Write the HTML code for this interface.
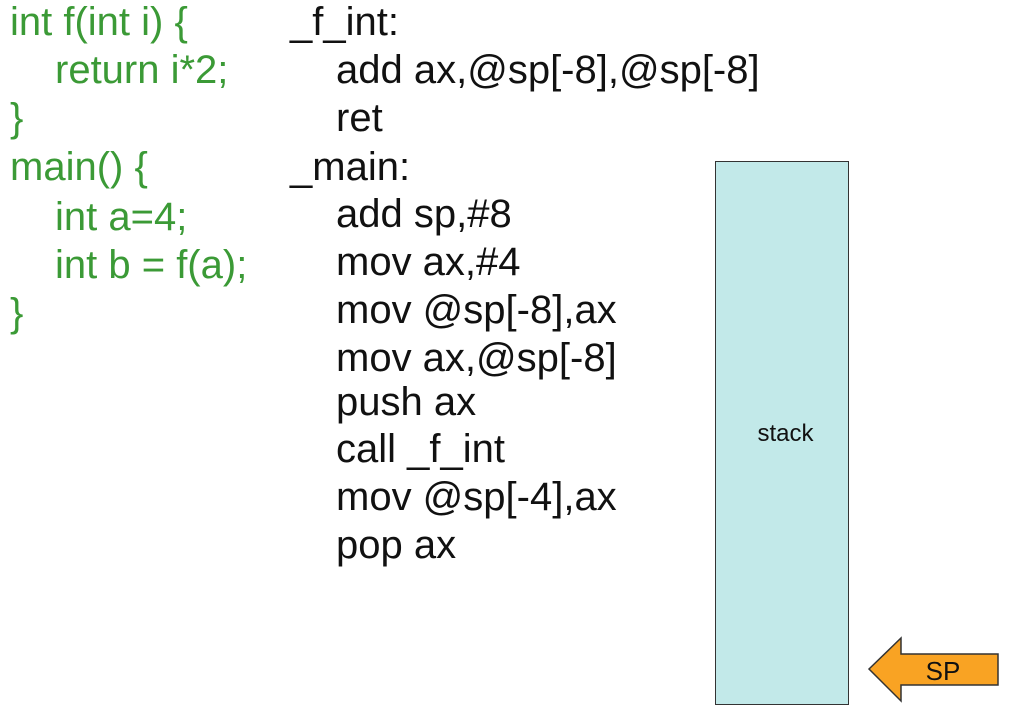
<!DOCTYPE html>
<html><head><style>
html,body{margin:0;padding:0;width:1027px;height:714px;background:#fff;overflow:hidden;position:relative;font-family:"Liberation Sans",Arial,sans-serif;}
.l{position:absolute;font-size:40px;line-height:48px;white-space:nowrap;}
.g{color:#3b9a36;}
.k{color:#111;}
</style></head><body>
<div class="l g" style="left:10px;top:-2px">int f(int i) {</div>
<div class="l g" style="left:55px;top:46px">return i*2;</div>
<div class="l g" style="left:10px;top:94px">}</div>
<div class="l g" style="left:10px;top:143px">main() {</div>
<div class="l g" style="left:55px;top:193px">int a=4;</div>
<div class="l g" style="left:55px;top:241px">int b = f(a);</div>
<div class="l g" style="left:10px;top:289px">}</div>

<div class="l k" style="left:290px;top:-2px">_f_int:</div>
<div class="l k" style="left:336px;top:46px">add ax,@sp[-8],@sp[-8]</div>
<div class="l k" style="left:336px;top:94px">ret</div>
<div class="l k" style="left:290px;top:143px">_main:</div>
<div class="l k" style="left:336px;top:190px">add sp,#8</div>
<div class="l k" style="left:336px;top:238px">mov ax,#4</div>
<div class="l k" style="left:336px;top:286px">mov @sp[-8],ax</div>
<div class="l k" style="left:336px;top:334px">mov ax,@sp[-8]</div>
<div class="l k" style="left:336px;top:378px">push ax</div>
<div class="l k" style="left:336px;top:425px">call _f_int</div>
<div class="l k" style="left:336px;top:473px">mov @sp[-4],ax</div>
<div class="l k" style="left:336px;top:521px">pop ax</div>

<div style="position:absolute;left:715px;top:161px;width:132px;height:542px;background:#c2e9e9;border:1.5px solid #333;"></div>
<div style="position:absolute;left:718px;top:420px;width:135px;text-align:center;font-size:24px;color:#111;">stack</div>

<svg style="position:absolute;left:0;top:0" width="1027" height="714">
<polygon points="869,669 901,638 901,654 998,654 998,685 901,685 901,701" fill="#f9a323" stroke="#333" stroke-width="1.5"/>
<text x="943" y="680" font-family="Liberation Sans, Arial, sans-serif" font-size="26" text-anchor="middle" fill="#111">SP</text>
</svg>
</body></html>
